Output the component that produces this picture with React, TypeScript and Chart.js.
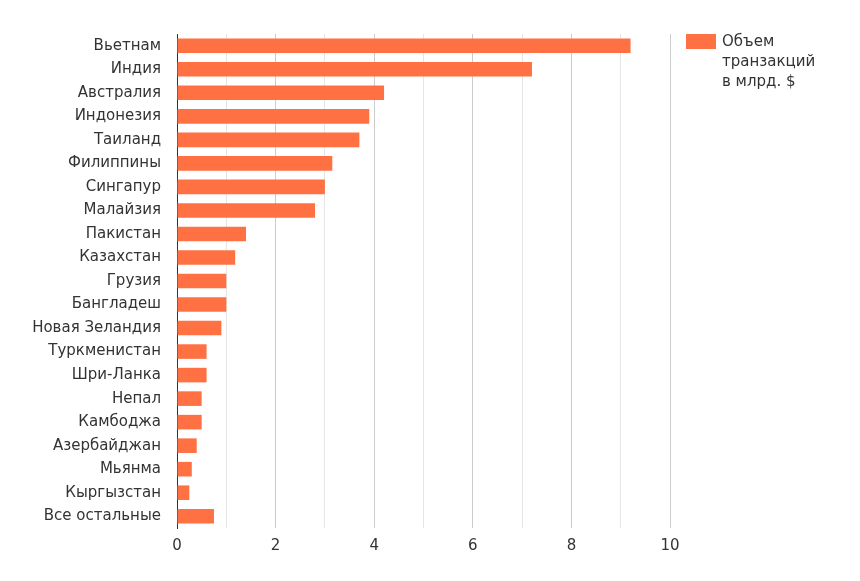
import React, { useEffect, useRef } from "react";
import { Chart, registerables } from "chart.js";

Chart.register(...registerables);

const categories = [
  "Вьетнам",
  "Индия",
  "Австралия",
  "Индонезия",
  "Таиланд",
  "Филиппины",
  "Сингапур",
  "Малайзия",
  "Пакистан",
  "Казахстан",
  "Грузия",
  "Бангладеш",
  "Новая Зеландия",
  "Туркменистан",
  "Шри-Ланка",
  "Непал",
  "Камбоджа",
  "Азербайджан",
  "Мьянма",
  "Кыргызстан",
  "Все остальные",
];

const values = [
  9.2, 7.2, 4.2, 3.9, 3.7, 3.15, 3.0, 2.8, 1.4, 1.18, 1.0, 1.0, 0.9, 0.6, 0.6,
  0.5, 0.5, 0.4, 0.3, 0.25, 0.75,
];

const seriesLabel = ["Объем", "транзакций", "в млрд. $"];

const FONT = "'DejaVu Sans', sans-serif";
const TEXT = "#333333";
const BAR = "#ff7043";

export default function App() {
  const ref = useRef<HTMLCanvasElement | null>(null);

  useEffect(() => {
    if (!ref.current) return;
    const chart = new Chart(ref.current, {
      type: "bar",
      data: {
        labels: categories,
        datasets: [
          {
            label: seriesLabel.join(" "),
            data: values,
            backgroundColor: BAR,
            borderWidth: 0,
            barPercentage: 0.62,
            categoryPercentage: 1,
          },
        ],
      },
      options: {
        indexAxis: "y",
        animation: false,
        responsive: false,
        maintainAspectRatio: false,
        layout: { padding: { top: 34, right: 190, bottom: 0, left: 0 } },
        plugins: {
          legend: { display: false },
          tooltip: { enabled: false },
        },
        scales: {
          x: {
            min: 0,
            max: 10,
            afterFit: (s: any) => {
              s.height = 53;
            },
            border: { display: false },
            grid: {
              drawTicks: false,
              color: (ctx: any) =>
                ctx.tick && ctx.tick.value % 2 === 0 ? "#cccccc" : "#e6e6e6",
              lineWidth: 1,
            },
            ticks: {
              stepSize: 1,
              autoSkip: false,
              maxRotation: 0,
              padding: 9,
              color: TEXT,
              font: { family: FONT, size: 15 },
              callback: (v: any) => (Number(v) % 2 === 0 ? String(v) : ""),
            },
          },
          y: {
            afterFit: (s: any) => {
              s.width = 177;
            },
            border: { display: true, color: "#333333", width: 1 },
            grid: { display: false },
            ticks: {
              autoSkip: false,
              padding: 8,
              color: TEXT,
              font: { family: FONT, size: 15 },
            },
          },
        },
      },
    });
    return () => chart.destroy();
  }, []);

  return (
    <div
      style={{
        position: "fixed",
        left: 0,
        top: 0,
        width: 860,
        height: 581,
        background: "#ffffff",
      }}
    >
      <canvas ref={ref} width={860} height={581} style={{ width: 860, height: 581 }} />
      <div
        style={{
          position: "absolute",
          left: 686,
          top: 34,
          display: "flex",
          alignItems: "flex-start",
          fontFamily: FONT,
          fontSize: 15,
          color: TEXT,
          lineHeight: "20px",
        }}
      >
        <div style={{ width: 30, height: 15, background: BAR, marginTop: 0 }} />
        <div style={{ marginLeft: 6, marginTop: -3 }}>
          {seriesLabel.map((l, i) => (
            <div key={i}>{l}</div>
          ))}
        </div>
      </div>
    </div>
  );
}
